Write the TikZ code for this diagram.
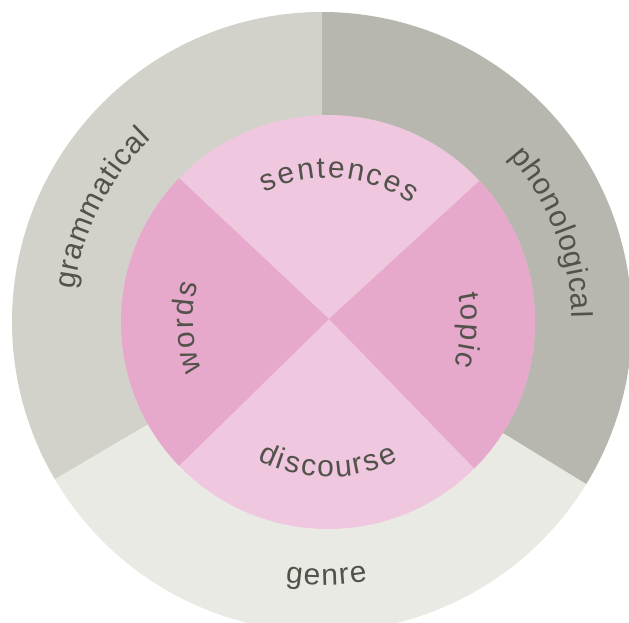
\documentclass[tikz,border=0pt]{standalone}
\usepackage{fontspec}
\setmainfont{Liberation Sans}
\usetikzlibrary{decorations.text}
\definecolor{gramc}{HTML}{D2D2CA}
\definecolor{phonc}{HTML}{B7B7AF}
\definecolor{genrec}{HTML}{EAEAE5}
\definecolor{pinkD}{HTML}{E6A8CB}
\definecolor{pinkL}{HTML}{EFC7DF}
\definecolor{txtc}{HTML}{52524A}
\newcommand\lblfont{\fontsize{30}{32}\selectfont}
\tikzset{
  textarc/.style={decorate, decoration={text along path, text={|\lblfont|#1}, text align={fit to path}, text color=txtc}},
  seg/.style={fill=#1, draw=none}
}
\begin{document}
\begin{tikzpicture}[x=1pt,y=1pt]
\useasboundingbox (-322pt,-301pt) rectangle (307pt,322pt);
\clip (-322pt,-301pt) rectangle (307pt,322pt);
\fill[white] (-322pt,-301pt) rectangle (307pt,322pt);
\coordinate (O) at (0pt,0pt);
\coordinate (IC) at (6pt,0pt);
\coordinate (X) at (7pt,3pt);
% outer ring
\fill[seg=gramc] (O) -- (90:310pt) arc[start angle=90,end angle=210.5,radius=310pt] -- cycle;
\fill[seg=genrec] (O) -- (210.5:310pt) arc[start angle=210.5,end angle=328.5,radius=310pt] -- cycle;
\fill[seg=phonc] (O) -- (-31.5:310pt) arc[start angle=-31.5,end angle=90,radius=310pt] -- cycle;
% inner disc
\fill[pinkL] (IC) circle[radius=207pt];
\fill[pinkD] (X) -- ([shift={(IC)}]136:207pt) arc[start angle=136,end angle=224,radius=207pt] -- cycle;
\fill[pinkD] (X) -- ([shift={(IC)}]43:207pt) arc[start angle=43,end angle=-45,radius=207pt] -- cycle;
% inner labels
\path[textarc={sentences}] ([shift={(IC)}]116:144pt) arc[start angle=116,end angle=55,radius=144pt];
\path[textarc={discourse}] ([shift={(IC)}]243:155pt) arc[start angle=243,end angle=297,radius=155pt];
\path[textarc={words}] ([shift={(IC)}]201:135pt) arc[start angle=201,end angle=163.5,radius=135pt];
\path[textarc={topic}] ([shift={(IC)}]12:133pt) arc[start angle=12,end angle=-19,radius=133pt];
% outer labels
\path[textarc={grammatical}] (172.5:250pt) arc[start angle=172.5,end angle=133,radius=250pt];
\path[textarc={phonological}] (41.5:250pt) arc[start angle=41.5,end angle=1,radius=250pt];
\path[textarc={genre}] (262:263pt) arc[start angle=262,end angle=280,radius=263pt];
\end{tikzpicture}
\end{document}
